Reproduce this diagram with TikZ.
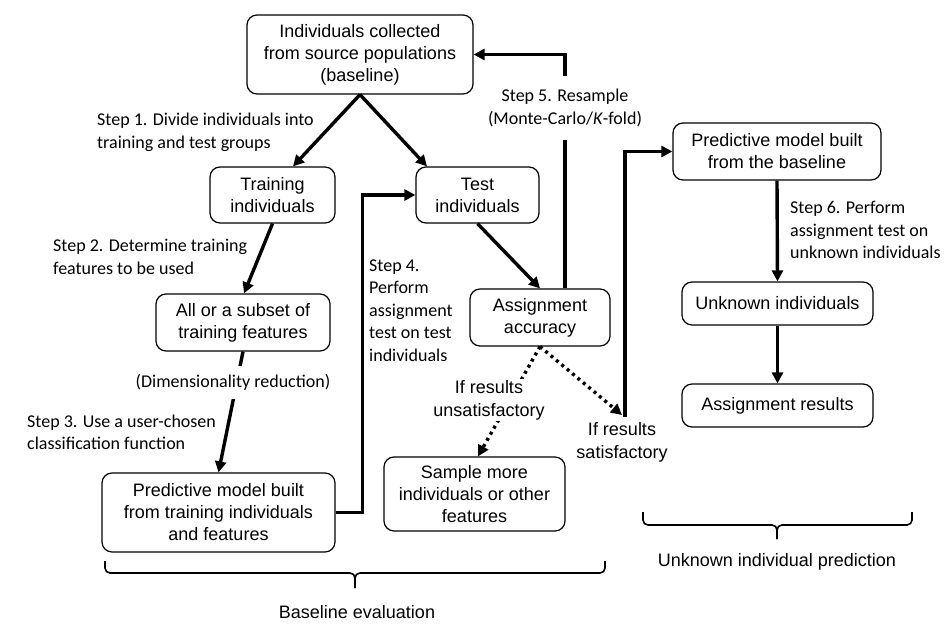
\documentclass[tikz,border=0pt]{standalone}
\usepackage{fontspec}
\setmainfont{Liberation Sans}
\newfontfamily\calib{Carlito}
\usetikzlibrary{arrows.meta}
\begin{document}
\begin{tikzpicture}[x=1bp,y=-1bp,
  box/.style={draw, rounded corners=10bp, line width=1.2bp, align=center,
    font=\fontsize{18bp}{22bp}\selectfont, inner sep=0pt},
  steplbl/.style={align=left, anchor=west, inner sep=0pt,
    font=\calib\fontsize{18bp}{22.5bp}\selectfont},
  arial/.style={align=center, inner sep=1bp, font=\fontsize{18bp}{23bp}\selectfont},
  thickarrow/.style={line width=3.4bp, -{Triangle[length=11bp,width=11bp]}},
  dotarrow/.style={line width=3.4bp, dash pattern=on 3bp off 4bp, -{Triangle[length=11bp,width=11bp]}},
  bracestyle/.style={line width=1.6bp, rounded corners=5bp}
]
\useasboundingbox (0,0) rectangle (951,631);
\fill[white] (0,0) rectangle (951,631);

% boxes
\node[box, minimum width=226bp, minimum height=79bp] (src) at (360,54.5)
  {Individuals collected\\from source populations\\(baseline)};
\node[box, minimum width=125bp, minimum height=56bp] (train) at (272.5,195) {Training\\individuals};
\node[box, minimum width=123bp, minimum height=56bp] (test) at (477.5,195) {Test\\individuals};
\node[box, minimum width=174bp, minimum height=57bp] (subset) at (243,322.5) {All or a subset of\\training features};
\node[box, minimum width=233bp, minimum height=79bp] (model) at (218.5,512.5)
  {Predictive model built\\from training individuals\\and features};
\node[box, minimum width=140bp, minimum height=57bp] (acc) at (540,317.5) {Assignment\\accuracy};
\node[box, minimum width=181bp, minimum height=74bp] (sample) at (474.5,494)
  {Sample more\\individuals or other\\features};
\node[box, minimum width=208bp, minimum height=57bp] (pmb) at (777,151.5) {Predictive model built\\from the baseline};
\node[box, minimum width=191bp, minimum height=43bp] (unk) at (777.5,303.5) {Unknown individuals};
\node[box, minimum width=191bp, minimum height=43bp] (res) at (777.5,405.5) {Assignment results};

% coordinates
\coordinate (sat) at (625,417);
\coordinate (sattip) at (622,415);

% step labels
\node[steplbl] (s1) at (97,132.5) {Step 1. Divide individuals into\\training and test groups};
\node[steplbl] (s2) at (53,257) {Step 2. Determine training\\features to be used};
\node[steplbl] (s3) at (27,432.5) {Step 3. Use a user-chosen\\classification function};
\node[steplbl] (s4) at (369,310.5) {Step 4.\\Perform\\assignment\\test on test\\individuals};
\node[steplbl] (s6) at (790,230) {Step 6. Perform\\assignment test on\\unknown individuals};

% arrows
\draw[thickarrow] (src.south) -- ([xshift=20.5bp]train.north);
\draw[thickarrow] (src.south) -- ([xshift=-50.5bp]test.north);
\draw[thickarrow] (train.south) -- ([xshift=1bp]subset.north);
\draw[thickarrow] (subset.south) -- (model.north);
\node[steplbl, anchor=center, fill=white, inner xsep=1bp, inner ysep=8bp] (dimred) at (233,382.5) {(Dimensionality reduction)};
\draw[thickarrow] (model.east) -- ++(27,0) |- (test.west);
\draw[thickarrow] (test.south) -- (acc.north);
\draw[thickarrow] ([xshift=25bp]acc.north) |- (src.east);
\node[steplbl, anchor=center, align=center, fill=white, inner xsep=1bp, inner ysep=13bp] (s5) at (565,108)
  {Step 5. Resample\\(Monte-Carlo/\textit{K}-fold)};
\draw[dotarrow] (acc.south) -- ([xshift=3.5bp]sample.north);
\node[arial, fill=white] (unsat) at (489,400) {If results\\unsatisfactory};
\draw[dotarrow] (acc.south) -- (sattip);
\draw[thickarrow] (sat) |- (pmb.west);
\node[arial] (satl) at (622,442) {If results\\satisfactory};
\draw[thickarrow] (pmb.south) -- (unk.north);
\draw[thickarrow] (unk.south) -- (res.north);

% braces
\coordinate (b1tip) at (355,588);
\coordinate (b2tip) at (777,539);
\draw[bracestyle] (105,561) |- (355,573) -- (b1tip);
\draw[bracestyle] (605,561) |- (355,573) -- (b1tip);
\draw[bracestyle] (643,512) |- (777,525) -- (b2tip);
\draw[bracestyle] (912,512) |- (777,525) -- (b2tip);
\node[arial] (bl) at (357,612) {Baseline evaluation};
\node[arial] (ul) at (777,562) {Unknown individual prediction};
\end{tikzpicture}
\end{document}
